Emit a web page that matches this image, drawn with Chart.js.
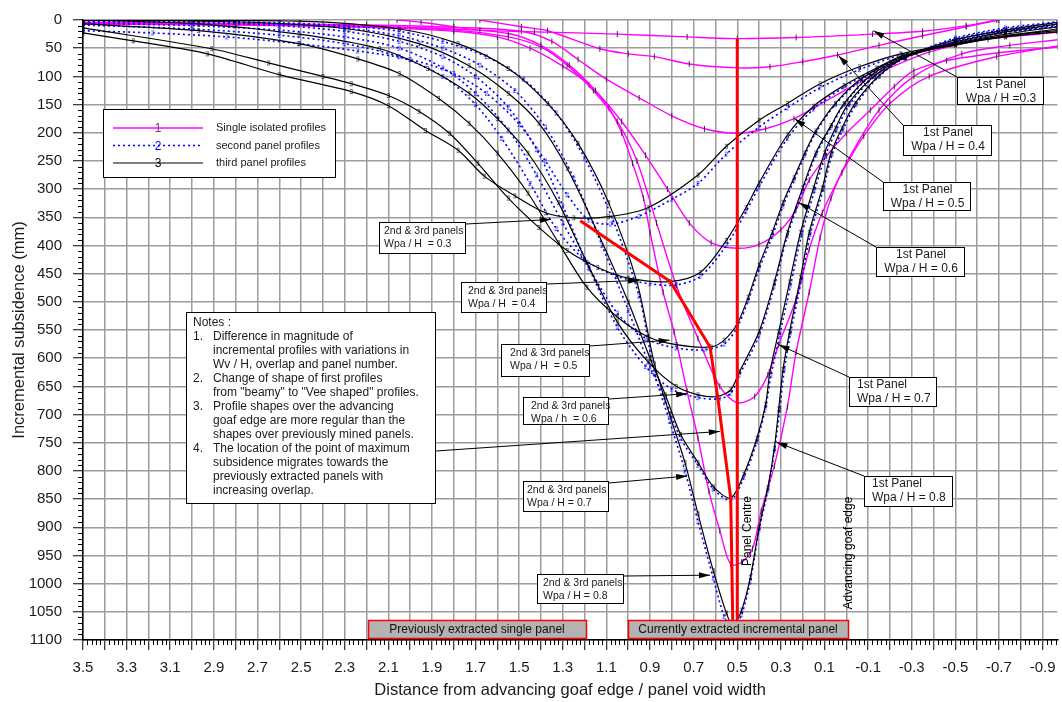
<!DOCTYPE html>
<html>
<head>
<meta charset="utf-8">
<script src="https://cdn.jsdelivr.net/npm/chart.js@4.4.1/dist/chart.umd.min.js"></script>
<style>
  html, body { margin: 0; padding: 0; background: #fff; }
  #wrap { width: 1062px; height: 702px; position: relative; }
</style>
</head>
<body>
<div id="wrap"><canvas id="chart"></canvas></div>
<script>
// x: distance from advancing goaf edge / panel void width, y: incremental subsidence (mm)

// single isolated profiles (1st panel), Wpa/H = 0.3 ... 0.8
const single03 = [[2.06,0],[1.95,4],[1.80,12],[1.68,18],[1.43,21],[1.05,25],[0.73,30],[0.50,33],[0.23,31],[-0.12,25],[-0.35,20],[-0.55,10],[-0.69,0]];
const single04 = [[1.68,0],[1.49,12],[1.37,19],[1.13,51],[1.00,60],[0.88,65],[0.72,78],[0.50,85],[0.35,83],[0.20,74],[0.04,62],[-0.15,45],[-0.35,28],[-0.55,12],[-0.70,0]];
const single05 = [[3.5,4],[2.8,6],[2.2,9],[1.8,13],[1.49,20],[1.35,38],[1.23,70],[1.10,105],[0.95,138],[0.80,170],[0.65,193],[0.50,201],[0.37,193],[0.24,175],[0.10,145],[-0.05,113],[-0.17,90],[-0.38,57],[-0.65,34],[-0.97,22]];
const single06 = [[3.5,5],[2.8,7],[2.2,11],[1.8,16],[1.55,24],[1.4,45],[1.27,80],[1.15,125],[1.03,180],[0.92,240],[0.82,300],[0.72,360],[0.62,395],[0.50,405],[0.40,398],[0.30,372],[0.23,336],[0.17,284],[0.09,241],[0.0,201],[-0.11,160],[-0.22,118],[-0.31,90],[-0.46,72],[-0.70,58],[-0.97,48]];
const single07 = [[3.5,6],[2.8,8],[2.2,12],[1.8,18],[1.55,30],[1.40,48],[1.28,80],[1.16,125],[1.05,180],[0.96,250],[0.87,360],[0.78,470],[0.68,565],[0.58,650],[0.50,679],[0.42,668],[0.36,630],[0.31,576],[0.23,495],[0.17,407],[0.11,342],[0.02,271],[-0.08,206],[-0.20,148],[-0.38,100],[-0.69,65],[-0.97,46]];
const single08 = [[3.5,7],[2.8,9],[2.2,13],[1.8,20],[1.6,30],[1.45,50],[1.30,82],[1.18,115],[1.09,155],[1.03,200],[0.98,254],[0.93,316],[0.90,377],[0.84,483],[0.79,553],[0.73,659],[0.68,742],[0.63,836],[0.58,906],[0.53,966],[0.48,962],[0.43,938],[0.39,871],[0.33,791],[0.27,686],[0.23,589],[0.17,483],[0.12,386],[0.07,316],[0.0,254],[-0.15,160],[-0.31,100],[-0.53,60],[-0.75,45],[-0.97,35]];

// second panel profiles
const second03 = [[3.5,19],[3.18,23],[2.84,30],[2.51,42],[2.24,55],[2.0,70],[1.8,95],[1.65,130],[1.5,185],[1.38,250],[1.28,310],[1.18,355],[1.08,362],[0.95,348],[0.8,318],[0.68,290],[0.55,238],[0.40,190],[0.27,156],[0.12,120],[-0.06,88],[-0.25,62],[-0.5,40],[-0.73,22],[-0.97,12]];
const second04 = [[3.5,9],[3.0,16],[2.6,27],[2.3,42],[2.05,65],[1.85,100],[1.7,150],[1.58,210],[1.45,290],[1.33,370],[1.2,425],[1.05,455],[0.9,468],[0.78,470],[0.67,455],[0.55,400],[0.46,340],[0.40,296],[0.27,210],[0.15,158],[0.01,119],[-0.14,87],[-0.26,64],[-0.5,40],[-0.73,22],[-0.97,12]];
const second05 = [[3.5,5],[3.0,10],[2.6,18],[2.3,30],[2.05,50],[1.85,85],[1.7,130],[1.55,195],[1.42,275],[1.3,360],[1.18,440],[1.05,520],[0.92,565],[0.78,582],[0.65,585],[0.56,575],[0.50,545],[0.45,498],[0.40,442],[0.34,384],[0.29,330],[0.24,285],[0.19,240],[0.14,200],[0.05,150],[-0.07,106],[-0.26,66],[-0.5,38],[-0.73,20],[-0.97,10]];
const second06 = [[3.5,2],[3.0,5],[2.6,10],[2.3,20],[2.05,38],[1.85,65],[1.7,100],[1.55,155],[1.42,230],[1.3,330],[1.18,440],[1.05,545],[0.92,615],[0.8,655],[0.68,670],[0.58,672],[0.53,662],[0.49,630],[0.40,560],[0.33,472],[0.27,383],[0.20,303],[0.14,240],[0.07,190],[0.01,150],[-0.11,100],[-0.27,67],[-0.5,36],[-0.73,18],[-0.97,8]];
const second07 = [[3.5,0],[3.0,3],[2.6,7],[2.3,14],[2.05,28],[1.85,50],[1.68,80],[1.52,125],[1.38,190],[1.25,280],[1.12,400],[1.0,515],[0.9,615],[0.83,675],[0.76,742],[0.68,790],[0.61,832],[0.53,852],[0.47,812],[0.41,748],[0.37,688],[0.345,630],[0.305,558],[0.255,470],[0.205,382],[0.145,302],[0.095,240],[0.045,195],[-0.015,150],[-0.13,100],[-0.27,67],[-0.5,34],[-0.73,16],[-0.97,5]];
const second08 = [[3.5,0],[3.0,2],[2.6,5],[2.3,10],[2.05,20],[1.85,38],[1.65,65],[1.48,105],[1.33,165],[1.2,245],[1.07,355],[0.95,490],[0.88,625],[0.81,712],[0.74,800],[0.68,890],[0.61,990],[0.56,1058],[0.52,1080],[0.48,1055],[0.44,995],[0.40,905],[0.36,835],[0.33,765],[0.305,692],[0.285,622],[0.255,555],[0.205,460],[0.165,380],[0.105,300],[0.065,238],[0.015,194],[-0.045,150],[-0.15,100],[-0.27,67],[-0.5,32],[-0.73,14],[-0.97,3]];

// third panel profiles
const third03 = [[3.5,23],[3.27,37],[2.93,60],[2.6,97],[2.27,127],[2.1,152],[1.93,196],[1.78,231],[1.66,277],[1.52,312],[1.38,342],[1.25,351],[1.09,349],[0.91,333],[0.68,275],[0.55,224],[0.40,178],[0.27,148],[0.12,113],[-0.06,83],[-0.25,60],[-0.50,42],[-0.73,28],[-0.97,19]];
const third04 = [[3.5,14],[2.91,51],[2.65,76],[2.4,100],[2.27,113],[2.1,134],[1.96,162],[1.82,201],[1.69,254],[1.55,316],[1.41,368],[1.28,409],[1.14,439],[1.0,458],[0.81,464],[0.67,448],[0.55,391],[0.46,333],[0.40,289],[0.27,204],[0.15,153],[0.01,116],[-0.14,85],[-0.26,63],[-0.50,44],[-0.73,30],[-0.97,21]];
const third05 = [[3.5,7],[2.97,19],[2.51,42],[2.24,69],[2.05,95],[1.87,139],[1.73,183],[1.6,236],[1.46,307],[1.32,395],[1.19,474],[1.05,527],[0.91,562],[0.78,576],[0.62,580],[0.56,568],[0.50,539],[0.45,492],[0.40,435],[0.34,377],[0.29,324],[0.24,280],[0.19,236],[0.14,197],[0.05,148],[-0.07,104],[-0.26,65],[-0.50,44],[-0.73,28],[-0.97,16]];
const third06 = [[3.5,0],[2.97,7],[2.51,25],[2.14,51],[1.92,86],[1.73,130],[1.6,175],[1.46,236],[1.32,324],[1.19,430],[1.05,536],[0.91,606],[0.78,650],[0.68,665],[0.59,668],[0.53,656],[0.49,624],[0.40,553],[0.33,465],[0.27,377],[0.20,298],[0.14,236],[0.07,187],[0.01,148],[-0.11,99],[-0.27,66],[-0.50,42],[-0.73,25],[-0.97,12]];
const third07 = [[3.5,0],[2.74,4],[2.28,16],[1.96,42],[1.73,81],[1.55,130],[1.41,183],[1.28,263],[1.14,377],[1.0,500],[0.9,600],[0.83,665],[0.76,735],[0.68,785],[0.61,828],[0.53,848],[0.47,806],[0.41,742],[0.37,682],[0.35,624],[0.31,553],[0.26,465],[0.21,377],[0.15,298],[0.10,236],[0.05,192],[-0.01,148],[-0.13,99],[-0.27,66],[-0.50,39],[-0.73,21],[-0.97,7]];
const third08 = [[3.5,0],[2.51,2],[2.05,16],[1.78,42],[1.55,86],[1.37,148],[1.23,219],[1.09,324],[0.96,465],[0.88,610],[0.81,700],[0.74,785],[0.68,876],[0.61,977],[0.55,1052],[0.52,1074],[0.48,1047],[0.44,989],[0.40,901],[0.36,830],[0.33,760],[0.31,690],[0.29,620],[0.26,553],[0.21,457],[0.17,377],[0.11,298],[0.07,236],[0.02,192],[-0.04,148],[-0.15,99],[-0.27,66],[-0.50,35],[-0.73,18],[-0.97,4]];

// path of maximum subsidence and panel centre line
const maxPath = [[1.22,356],[0.807,464],[0.625,580],[0.59,668],[0.53,848],[0.52,1080]];
const panelCentre = [[0.5,33],[0.5,1092]];

const xTickLabels = ['3.5','3.3','3.1','2.9','2.7','2.5','2.3','2.1','1.9','1.7','1.5','1.3','1.1','0.9','0.7','0.5','0.3','0.1','-0.1','-0.3','-0.5','-0.7','-0.9'];

const legendItems = [
    { text: 'Single isolated profiles', kind: 1 },
    { text: 'second panel profiles', kind: 2 },
    { text: 'third panel profiles', kind: 3 }
];

const notesLines = [
    ['', 'Notes :'],
    ['1.', 'Difference in magnitude of'],
    ['', 'incremental profiles with variations in'],
    ['', 'Wv / H, overlap and panel number.'],
    ['2.', 'Change of shape of first profiles'],
    ['', 'from "beamy" to "Vee shaped" profiles.'],
    ['3.', 'Profile shapes over the advancing'],
    ['', 'goaf edge are more regular than the'],
    ['', 'shapes over previously mined panels.'],
    ['4.', 'The location of the point of maximum'],
    ['', 'subsidence migrates towards the'],
    ['', 'previously extracted panels with'],
    ['', 'increasing overlap.']
];

// labels: box in pixels, arrow tip in data units
const firstPanelNotes = [
    { box: [957, 77, 86, 27], lines: ['1st Panel', 'Wpa / H =0.3'], tip: [-0.124, 19], align: 'center' },
    { box: [903, 125, 88, 30], lines: ['1st Panel', 'Wpa / H = 0.4'], tip: [0.036, 63], align: 'center' },
    { box: [883, 182, 87, 28], lines: ['1st Panel', 'Wpa / H = 0.5'], tip: [0.237, 175], align: 'center' },
    { box: [876, 247, 88, 29], lines: ['1st Panel', 'Wpa / H = 0.6'], tip: [0.218, 324], align: 'center' },
    { box: [849, 377, 87, 29], lines: ['1st Panel', 'Wpa / H = 0.7'], tip: [0.31, 576], align: 'left' },
    { box: [864, 476, 88, 30], lines: ['1st Panel', 'Wpa / H = 0.8'], tip: [0.32, 749], align: 'left' }
];
const laterPanelNotes = [
    { box: [379, 222, 86, 31], lines: ['2nd & 3rd panels', 'Wpa / H  = 0.3'], tip: [1.355, 354], pad: 5 },
    { box: [461, 282, 85, 30], lines: ['2nd & 3rd panels', 'Wpa / H  = 0.4'], tip: [0.95, 462], pad: 7 },
    { box: [501, 344, 88, 32], lines: ['2nd & 3rd panels', 'Wpa / H  = 0.5'], tip: [0.81, 568], pad: 9 },
    { box: [523, 397, 85, 27], lines: ['2nd & 3rd panels', 'Wpa / h  = 0.6'], tip: [0.73, 663], pad: 8 },
    { box: [523, 481, 85, 30], lines: ['2nd & 3rd panels', 'Wpa / H = 0.7'], tip: [0.73, 809], pad: 4 },
    { box: [537, 574, 86, 29], lines: ['2nd & 3rd panels', 'Wpa / H = 0.8'], tip: [0.625, 985], pad: 6 }
];
const maxNoteTip = [0.58, 730];

const colors = {
    single: '#ff00ff',
    second: '#0000ff',
    third: '#000000',
    red: '#ff0000',
    grid: '#9c9c9c',
    text: '#1a1a1a'
};

function digitMarker(ch, color, size) {
    const c = document.createElement('canvas');
    c.width = size;
    c.height = size + 2;
    const g = c.getContext('2d');
    g.fillStyle = color;
    g.font = size + 'px Arial';
    g.textAlign = 'center';
    g.textBaseline = 'middle';
    g.fillText(ch, size / 2, (size + 2) / 2 + 0.5);
    return c;
}

const marker2 = digitMarker('2', colors.second, 7);
const marker3 = digitMarker('3', colors.third, 7);

function profile(points, kind) {
    const base = {
        data: points.map(([x, y]) => ({ x, y })),
        fill: false,
        tension: 0.3,
        pointRadius: 3,
        pointHoverRadius: 3
    };
    if (kind === 1) {
        return { ...base, borderColor: colors.single, borderWidth: 1.4, pointStyle: 'line', pointRotation: 90,
            pointBorderColor: '#333', pointBorderWidth: 1, order: 3 };
    }
    if (kind === 2) {
        return { ...base, borderColor: colors.second, borderWidth: 1.6, borderDash: [2, 3], pointStyle: marker2, order: 2 };
    }
    return { ...base, borderColor: colors.third, borderWidth: 1.2, pointStyle: marker3, order: 1 };
}

function redLine(points) {
    return {
        data: points.map(([x, y]) => ({ x, y })),
        borderColor: colors.red, borderWidth: 3, tension: 0, pointRadius: 0, fill: false, order: 0
    };
}

const datasets = [
    ...[single03, single04, single05, single06, single07, single08].map(p => profile(p, 1)),
    ...[second03, second04, second05, second06, second07, second08].map(p => profile(p, 2)),
    ...[third03, third04, third05, third06, third07, third08].map(p => profile(p, 3)),
    redLine(maxPath),
    redLine(panelCentre)
];

// minor ticks every 0.02 on x and every 10 mm on y
const minorTicks = {
    id: 'minorTicks',
    afterDraw(chart) {
        const { ctx, chartArea, scales: { x, y } } = chart;
        ctx.save();
        ctx.strokeStyle = '#000';
        ctx.lineWidth = 1;
        ctx.beginPath();
        for (let k = -48; k <= 175; k++) {
            if (k % 5 === 0) continue;
            const px = Math.round(x.getPixelForValue(k / 50)) + 0.5;
            ctx.moveTo(px, chartArea.bottom);
            ctx.lineTo(px, chartArea.bottom + 5);
        }
        for (let v = 0; v <= 1100; v += 10) {
            if (v % 50 === 0) continue;
            const py = Math.round(y.getPixelForValue(v)) + 0.5;
            ctx.moveTo(chartArea.left - 5, py);
            ctx.lineTo(chartArea.left, py);
        }
        ctx.stroke();
        ctx.restore();
    }
};

function arrow(ctx, x0, y0, x1, y1) {
    ctx.beginPath();
    ctx.moveTo(x0, y0);
    ctx.lineTo(x1, y1);
    ctx.stroke();
    const a = Math.atan2(y1 - y0, x1 - x0), L = 11, W = 3;
    ctx.beginPath();
    ctx.moveTo(x1, y1);
    ctx.lineTo(x1 - L * Math.cos(a) + W * Math.sin(a), y1 - L * Math.sin(a) - W * Math.cos(a));
    ctx.lineTo(x1 - L * Math.cos(a) - W * Math.sin(a), y1 - L * Math.sin(a) + W * Math.cos(a));
    ctx.closePath();
    ctx.fill();
}

function box(ctx, [bx, by, bw, bh], fill, stroke, lw) {
    ctx.fillStyle = fill;
    ctx.fillRect(bx, by, bw, bh);
    ctx.strokeStyle = stroke;
    ctx.lineWidth = lw;
    ctx.strokeRect(bx + 0.5, by + 0.5, bw, bh);
}

const annotate = {
    id: 'annotate',
    afterDatasetsDraw(chart) {
        const { ctx, scales: { x, y } } = chart;
        ctx.save();
        ctx.strokeStyle = '#000';
        ctx.fillStyle = '#000';
        ctx.lineWidth = 1;

        // arrows first, boxes on top
        firstPanelNotes.forEach(n => arrow(ctx, n.box[0], n.box[1], x.getPixelForValue(n.tip[0]), y.getPixelForValue(n.tip[1])));
        laterPanelNotes.forEach(n => arrow(ctx, n.box[0] + n.box[2] + 1, n.box[1] + 2, x.getPixelForValue(n.tip[0]), y.getPixelForValue(n.tip[1])));
        arrow(ctx, 436, 451, x.getPixelForValue(maxNoteTip[0]), y.getPixelForValue(maxNoteTip[1]));

        ctx.textBaseline = 'middle';
        firstPanelNotes.forEach(n => {
            box(ctx, n.box, '#fff', '#000', 1);
            ctx.fillStyle = colors.text;
            ctx.font = '12px Arial';
            ctx.textAlign = n.align;
            const tx = n.align === 'center' ? n.box[0] + n.box[2] / 2 + 1 : n.box[0] + 8;
            ctx.fillText(n.lines[0], tx, n.box[1] + 8);
            ctx.fillText(n.lines[1], tx, n.box[1] + 22);
        });
        laterPanelNotes.forEach(n => {
            box(ctx, n.box, '#fff', '#000', 1);
            ctx.fillStyle = colors.text;
            ctx.font = '10.5px Arial';
            ctx.textAlign = 'left';
            ctx.fillText(n.lines[0], n.box[0] + n.pad, n.box[1] + 9);
            ctx.fillText(n.lines[1], n.box[0] + n.pad, n.box[1] + 22);
        });

        // notes
        box(ctx, [186, 312, 249, 191], '#fff', '#000', 1);
        ctx.fillStyle = colors.text;
        ctx.font = '12px Arial';
        ctx.textAlign = 'left';
        notesLines.forEach(([num, txt], i) => {
            const ly = 323 + i * 14;
            if (i === 0) { ctx.fillText(txt, 193, ly); return; }
            if (num) ctx.fillText(num, 193, ly);
            ctx.fillText(txt, 213, ly);
        });

        // legend
        box(ctx, [103, 109, 232, 68], '#fff', '#000', 1);
        legendItems.forEach((item, i) => {
            const ly = 128 + i * 17.5;
            ctx.save();
            ctx.beginPath();
            if (item.kind === 1) { ctx.strokeStyle = colors.single; ctx.lineWidth = 1.4; }
            if (item.kind === 2) { ctx.strokeStyle = colors.second; ctx.lineWidth = 1.6; ctx.setLineDash([2, 3]); }
            if (item.kind === 3) { ctx.strokeStyle = colors.third; ctx.lineWidth = 1.2; }
            ctx.moveTo(113, ly);
            ctx.lineTo(203, ly);
            ctx.stroke();
            ctx.restore();
            ctx.font = '12px Arial';
            ctx.textAlign = 'center';
            ctx.fillStyle = item.kind === 1 ? '#8a2b8a' : item.kind === 2 ? colors.second : '#000';
            ctx.fillText(String(item.kind), 158, ly + 1);
            ctx.fillStyle = colors.text;
            ctx.font = '11px Arial';
            ctx.textAlign = 'left';
            ctx.fillText(item.text, 216, ly);
        });

        // panel boxes along the bottom
        box(ctx, [368, 620, 218, 18], '#b3b3b3', colors.red, 1.5);
        box(ctx, [628, 620, 220, 18], '#b3b3b3', colors.red, 1.5);
        ctx.fillStyle = '#111';
        ctx.font = '12px Arial';
        ctx.textAlign = 'center';
        ctx.fillText('Previously extracted single panel', 477, 630);
        ctx.fillText('Currently extracted incremental panel', 738, 630);

        // vertical labels
        [['Panel Centre', 748, 531], ['Advancing goaf edge', 849, 553]].forEach(([t, vx, vy]) => {
            ctx.save();
            ctx.translate(vx, vy);
            ctx.rotate(-Math.PI / 2);
            ctx.fillStyle = '#000';
            ctx.font = '12px Arial';
            ctx.textAlign = 'center';
            ctx.fillText(t, 0, 0);
            ctx.restore();
        });
        ctx.restore();
    }
};

new Chart(document.getElementById('chart'), {
    type: 'line',
    data: { datasets },
    options: {
        responsive: true,
        maintainAspectRatio: false,
        animation: false,
        events: [],
        layout: { padding: { top: 16, right: 0, left: 0, bottom: 0 } },
        plugins: { legend: { display: false }, tooltip: { enabled: false } },
        scales: {
            x: {
                type: 'linear',
                reverse: true,
                min: -0.968,
                max: 3.5,
                afterFit(scale) { scale.height = 62; },
                afterBuildTicks(scale) {
                    const ticks = [];
                    for (let k = -9; k <= 35; k++) ticks.push({ value: k / 10 });
                    scale.ticks = ticks;
                },
                border: { color: '#000', width: 1.5 },
                grid: { color: colors.grid, lineWidth: 1.5, tickLength: 10, tickColor: '#000', tickWidth: 1 },
                ticks: {
                    autoSkip: false,
                    maxRotation: 0,
                    padding: 9,
                    color: colors.text,
                    font: { family: 'Arial', size: 15 },
                    callback: v => {
                        const s = (Math.round(v * 10) / 10).toFixed(1);
                        return xTickLabels.includes(s) ? s : '';
                    }
                },
                title: {
                    display: true,
                    text: 'Distance from advancing goaf edge / panel void width',
                    color: colors.text,
                    font: { family: 'Arial', size: 16.5 },
                    padding: { top: 0, bottom: 2 }
                }
            },
            y: {
                type: 'linear',
                reverse: true,
                min: 0,
                max: 1100,
                afterFit(scale) { scale.width = 83; },
                border: { color: '#000', width: 1.5 },
                grid: { color: colors.grid, lineWidth: 1.5, tickLength: 10, tickColor: '#000', tickWidth: 1 },
                ticks: {
                    stepSize: 50,
                    autoSkip: false,
                    padding: 11,
                    color: colors.text,
                    font: { family: 'Arial', size: 15 },
                    callback: v => String(v)
                },
                title: {
                    display: true,
                    text: 'Incremental subsidence (mm)',
                    color: colors.text,
                    font: { family: 'Arial', size: 16.5 },
                    padding: { top: 10, bottom: 0 }
                }
            }
        }
    },
    plugins: [minorTicks, annotate]
});
</script>
</body>
</html>
